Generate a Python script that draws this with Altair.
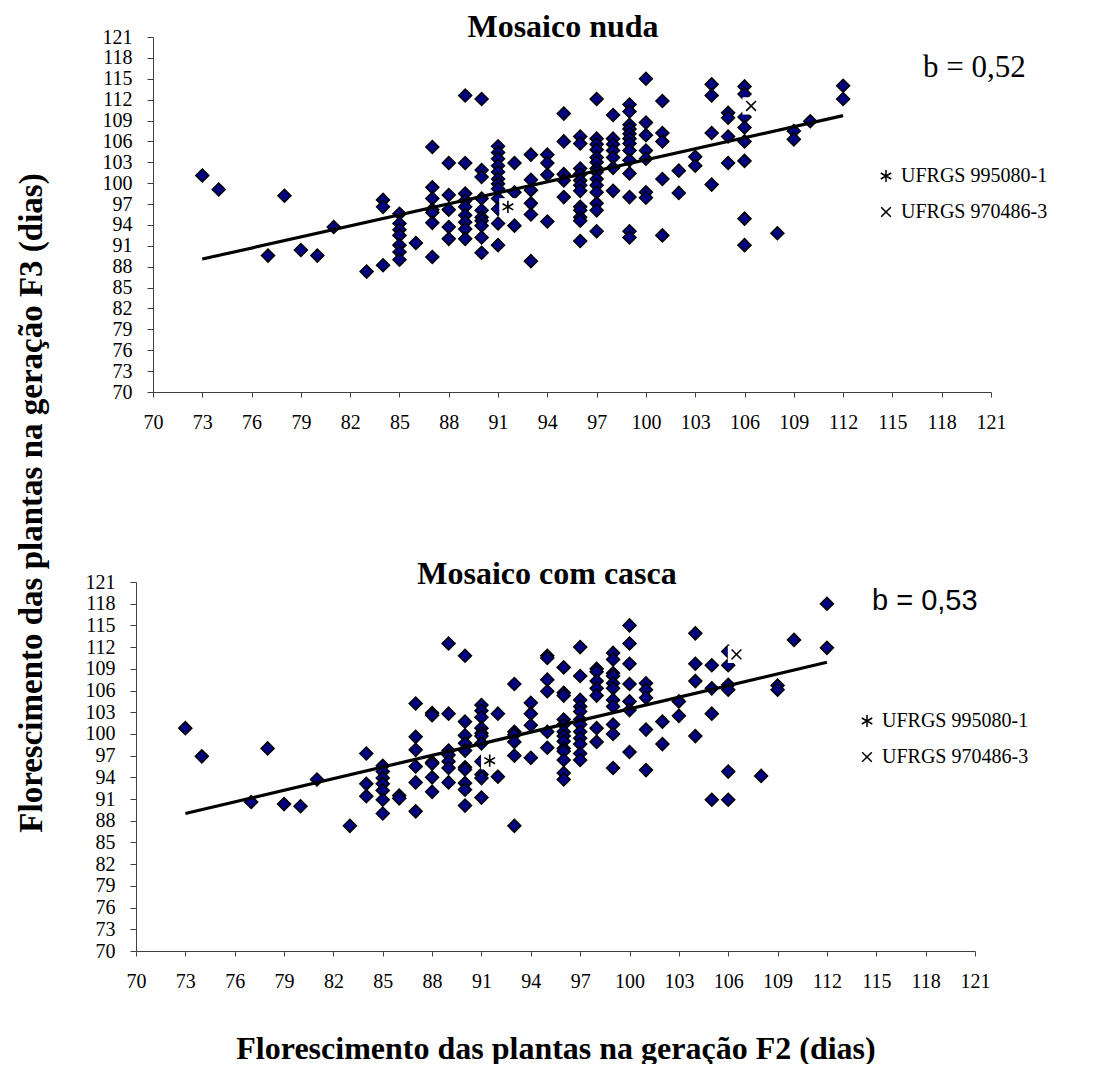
import altair as alt
import pandas as pd

SERIF = "Liberation Serif"
SANS = "Liberation Sans"

y_title = "Florescimento das plantas na geração F3 (dias)"
x_title = "Florescimento das plantas na geração F2 (dias)"
panel_titles = ["Mosaico nuda", "Mosaico com casca"]
slope_labels = ["b = 0,52", "b = 0,53"]
genotypes = ["UFRGS 995080-1", "UFRGS 970486-3"]
axis_ticks = list(range(70, 122, 3))

# F2 flowering (days) -> F3 flowering values, "Mosaico nuda"
nuda_points = {
    73: [101.1], 74: [99.1], 77: [89.6], 78: [98.2], 79: [90.4], 80: [89.6],
    81: [93.7], 83: [87.3], 84: [97.6, 96.6, 88.2],
    85: [95.6, 94.2, 93.3, 92.5, 91.1, 90.1, 89.0],
    86: [91.4],
    87: [105.2, 99.4, 97.8, 96.2, 95.8, 94.3, 89.4],
    88: [102.9, 98.3, 96.2, 93.7, 92.0],
    89: [112.6, 102.9, 98.5, 97.5, 96.6, 95.4, 94.4, 93.4, 92.0],
    90: [112.1, 101.9, 100.9, 97.8, 96.1, 95.1, 94.6, 93.9, 92.2, 90.0],
    91: [105.3, 104.4, 103.5, 102.5, 101.6, 100.6, 99.9, 99.2, 97.8, 96.3, 94.2, 91.1],
    92: [102.9, 98.7, 93.9],
    93: [104.1, 100.5, 99.0, 97.1, 95.5, 88.8],
    94: [104.1, 102.9, 101.2, 94.5],
    95: [110.0, 106.0, 101.3, 100.4, 98.0],
    96: [106.7, 105.7, 102.1, 101.3, 100.4, 99.7, 98.9, 96.6, 96.1, 95.1, 94.6, 91.7],
    97: [112.1, 106.4, 105.6, 104.8, 103.7, 103.0, 102.1, 101.6, 100.6, 99.7, 98.7, 97.1, 96.1, 93.1],
    98: [109.8, 106.4, 105.6, 104.7, 103.7, 102.2, 98.9],
    99: [111.3, 110.3, 108.4, 107.8, 107.1, 106.4, 105.7, 104.7, 103.3, 101.4, 98.0, 93.1, 92.2],
    100: [115.0, 108.7, 106.9, 104.7, 103.5, 98.7, 97.9],
    101: [111.8, 107.2, 106.0, 100.6, 92.5],
    102: [101.8, 98.6],
    103: [103.8, 102.5],
    104: [114.2, 112.6, 107.2, 99.8],
    105: [110.1, 109.4, 106.7, 102.9],
    106: [113.9, 112.8, 109.5, 108.0, 106.0, 103.2, 94.9, 91.1],
    108: [92.8],
    109: [107.5, 106.3],
    110: [108.9],
    112: [114.0, 112.1],
}

# F2 flowering (days) -> F3 flowering values, "Mosaico com casca"
casca_points = {
    73: [100.8], 74: [96.9], 77: [90.6], 78: [98.0], 79: [90.3], 80: [90.0],
    81: [93.7], 83: [87.3], 84: [97.3, 93.1, 91.4],
    85: [95.6, 94.8, 93.9, 93.1, 92.2, 90.9, 89.0],
    86: [91.5, 91.1],
    87: [104.2, 99.6, 97.8, 95.5, 93.3, 89.3],
    88: [102.9, 102.6, 96.1, 95.9, 94.0, 92.0],
    89: [112.5, 102.8, 97.7, 97.1, 96.2, 95.3, 93.3],
    90: [110.8, 101.7, 99.8, 98.7, 97.7, 95.4, 95.1, 93.2, 92.3, 90.1],
    91: [104.0, 103.2, 102.3, 100.8, 100.1, 99.7, 98.7, 96.2, 94.4, 93.9, 91.2],
    92: [102.8, 94.1],
    93: [106.9, 100.3, 99.9, 98.9, 97.0, 87.3],
    94: [104.3, 102.8, 101.2, 96.7],
    95: [110.8, 110.5, 107.5, 105.9, 100.3, 98.1],
    96: [109.2, 105.7, 105.3, 102.0, 101.3, 100.3, 99.7, 99.0, 98.0, 97.6, 96.4, 94.6, 93.7],
    97: [112.0, 108.0, 104.7, 103.8, 103.1, 102.0, 101.3, 100.3, 99.4, 98.6, 97.3, 96.4],
    98: [109.0, 108.6, 107.3, 106.3, 105.3, 100.8, 98.9],
    99: [111.2, 110.3, 108.4, 108.0, 107.0, 106.3, 104.7, 103.8, 101.3, 100.0, 95.3],
    100: [115.0, 112.5, 109.7, 106.9, 104.5, 103.3, 97.5],
    101: [107.0, 106.1, 105.0, 100.6, 95.0],
    102: [101.7, 98.6],
    103: [104.5, 102.5],
    104: [113.9, 109.7, 107.3, 99.7],
    105: [109.5, 106.3, 102.8, 90.9],
    106: [111.4, 109.5, 106.8, 106.1, 94.8, 90.9],
    108: [94.2],
    109: [106.7, 106.1],
    110: [113.0],
    112: [118.0, 111.9],
}

line_f2 = [73, 112]
nuda_line_f3 = [89.1, 109.7]
casca_line_f3 = [89.0, 109.9]

nuda_special_f2 = [91.6, 106.4]
nuda_special_f3 = [96.6, 111.1]
casca_special_f2 = [91.5, 106.5]
casca_special_f3 = [96.3, 111.0]

ASTERISK = "M0,-1L0,1M-0.87,-0.5L0.87,0.5M-0.87,0.5L0.87,-0.5"
CROSS = "M-0.8,-0.8L0.8,0.8M-0.8,0.8L0.8,-0.8"


def panel(points, line_f3, sp_f2, sp_f3, title, title_x, title_y, slope, slope_font,
          slope_size, slope_x, slope_y, leg_x, leg_y, w, h, with_x_title):
    pts = pd.DataFrame([{"f2": x, "f3": y} for x, ys in points.items() for y in ys])
    line = pd.DataFrame({"f2": line_f2, "f3": line_f3})
    sp = pd.DataFrame({"f2": sp_f2, "f3": sp_f3, "gen": genotypes})
    sc = alt.Scale(domain=[70, 121], nice=False, zero=False)
    xkw = dict(values=axis_ticks, labelFlush=False, labelOverlap=False,
               tickSize=5, labelPadding=15)
    if with_x_title:
        xax = alt.Axis(title=x_title, titleFont=SERIF, titleFontSize=32,
                       titleFontWeight="bold", titleColor="black",
                       titlePadding=42, **xkw)
    else:
        xax = alt.Axis(title=None, **xkw)
    yax = alt.Axis(values=axis_ticks, labelFlush=False, labelOverlap=False,
                   tickSize=6, labelPadding=15, title=None)
    X = alt.X("f2:Q", scale=sc, axis=xax)
    Y = alt.Y("f3:Q", scale=sc, axis=yax)

    diamonds = alt.Chart(pts).mark_point(
        shape="diamond", filled=True, fill="#000080", stroke="black",
        strokeWidth=1.5, size=169, opacity=1
    ).encode(x=X, y=Y)
    reg = alt.Chart(line).mark_line(color="black", strokeWidth=3.2).encode(x=X, y=Y)
    boxes = alt.Chart(sp).mark_point(
        shape="square", filled=True, color="white", size=300, opacity=1
    ).encode(x=X, y=Y)
    special = alt.Chart(sp).mark_point(
        filled=False, color="black", strokeWidth=1.6, size=150, opacity=1
    ).encode(
        x=X, y=Y,
        shape=alt.Shape("gen:N", scale=alt.Scale(domain=genotypes, range=[ASTERISK, CROSS]),
                        legend=alt.Legend(orient="none", legendX=leg_x, legendY=leg_y,
                                          title=None, labelFont=SERIF, labelFontSize=20,
                                          labelColor="black", symbolSize=144,
                                          symbolStrokeWidth=1.5, symbolStrokeColor="black",
                                          rowPadding=16, labelOffset=5, padding=0)),
    )
    slope_txt = alt.Chart(pd.DataFrame({"t": [slope]})).mark_text(
        font=slope_font, fontSize=slope_size, align="left", baseline="alphabetic", color="black"
    ).encode(text="t:N", x=alt.value(slope_x), y=alt.value(slope_y))
    title_txt = alt.Chart(pd.DataFrame({"t": [title]})).mark_text(
        font=SERIF, fontSize=32, fontWeight="bold", align="center",
        baseline="alphabetic", color="black"
    ).encode(text="t:N", x=alt.value(title_x), y=alt.value(title_y))

    return alt.layer(diamonds, reg, boxes, special, slope_txt, title_txt).properties(
        width=w, height=h)


top = panel(nuda_points, nuda_line_f3, nuda_special_f2, nuda_special_f3,
            panel_titles[0], 410, 0, slope_labels[0], SERIF, 31, 770, 40,
            792, 129, 838, 355, False)
bottom = panel(casca_points, casca_line_f3, casca_special_f2, casca_special_f3,
               panel_titles[1], 411, 2, slope_labels[1], SANS, 29, 736, 28,
               773, 129, 839, 369, True)


def spacer():
    return alt.Chart(pd.DataFrame({"t": [""]})).mark_text().encode(
        text="t:N").properties(width=1, height=10)


ytitle_chart = alt.Chart(pd.DataFrame({"t": [y_title]})).mark_text(
    angle=270, font=SERIF, fontSize=33, fontWeight="bold", color="black",
    align="center", baseline="middle"
).encode(text="t:N", x=alt.value(24), y=alt.value(466)).properties(width=50, height=1000)

right = alt.vconcat(
    alt.hconcat(spacer(), top, spacing=17),
    alt.hconcat(spacer(), bottom, spacing=0),
    spacing=126,
).resolve_scale(shape="independent").resolve_legend(shape="independent")

chart = alt.hconcat(ytitle_chart, right, spacing=26).properties(
    padding={"top": 3, "left": 0, "right": 0, "bottom": 0}) \
    .configure_view(stroke=None) \
    .configure_axis(labelFont=SERIF, labelFontSize=20, labelColor="black",
                    domainColor="#404040", tickColor="#404040", domainWidth=1,
                    tickWidth=1, grid=False)

chart.save("out.html", embed_options={"renderer": "svg", "actions": False})
